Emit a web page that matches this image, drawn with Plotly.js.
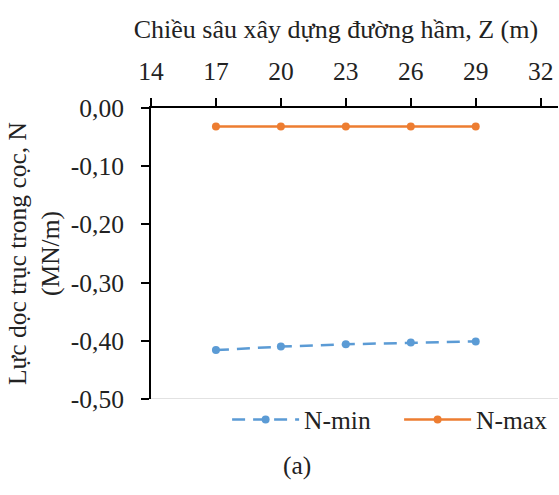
<!DOCTYPE html>
<html>
<head>
<meta charset="utf-8">
<script src="https://cdn.plot.ly/plotly-3.0.1.min.js"></script>
<style>html,body{margin:0;padding:0;background:#fff}</style>
</head>
<body>
<div id="chart" style="width:559px;height:495px"></div>
<script>
const depthZ = [17, 20, 23, 26, 29];
const nMin = [-0.416, -0.410, -0.406, -0.403, -0.401];
const nMax = [-0.032, -0.032, -0.032, -0.032, -0.032];
const xTicks = [14, 17, 20, 23, 26, 29, 32];
const yTicks = [0, -0.1, -0.2, -0.3, -0.4, -0.5];
const yTickText = ['0,00', '-0,10', '-0,20', '-0,30', '-0,40', '-0,50'];

const font = "'Liberation Serif', 'Times New Roman', serif";
const fs = 25.5;
const traces = [
  {x: depthZ, y: nMin, name: 'N-min', mode: 'lines+markers',
   line: {color: '#5B9BD5', width: 2.5, dash: '13px,8px'},
   marker: {color: '#5B9BD5', size: 8}},
  {x: depthZ, y: nMax, name: 'N-max', mode: 'lines+markers',
   line: {color: '#ED7D31', width: 2.5},
   marker: {color: '#ED7D31', size: 8}}
];
const layout = {
  width: 559, height: 495,
  margin: {l: 151, r: 1, t: 108, b: 96, autoexpand: false},
  paper_bgcolor: '#fff', plot_bgcolor: '#fff',
  font: {family: font, size: fs, color: '#222'},
  title: {text: 'Chiều sâu xây dựng đường hầm, Z (m)', xref: 'container', yref: 'container',
          x: 0.601, xanchor: 'center', y: 0.941, yanchor: 'middle',
          font: {family: font, size: 26, color: '#222'}},
  showlegend: true,
  legend: {orientation: 'h', x: 0.187, xanchor: 'left', y: -0.072, yanchor: 'middle',
           bgcolor: 'rgba(0,0,0,0)',
           font: {family: font, size: fs, color: '#222'}, itemwidth: 67,
           entrywidth: 90, entrywidthmode: 'pixels'},
  xaxis: {side: 'top', range: [14, 32.8], tickvals: xTicks, ticktext: xTicks.map(String),
          showgrid: false, zeroline: false, showline: true, linecolor: '#000', linewidth: 2,
          ticks: 'outside', ticklen: 8, tickwidth: 2, tickcolor: '#000', ticklabelstandoff: 8,
          tickfont: {family: font, size: fs, color: '#222'}},
  yaxis: {range: [-0.5, 0], tickvals: yTicks, ticktext: yTickText,
          showgrid: false, zeroline: false, showline: true, linecolor: '#000', linewidth: 2,
          ticks: 'outside', ticklen: 8, tickwidth: 2, tickcolor: '#000', ticklabelstandoff: 12,
          tickfont: {family: font, size: fs, color: '#222'},
          title: {text: 'Lực dọc trục trong cọc, N<br>(MN/m)', standoff: 4,
                  font: {family: font, size: fs, color: '#222'}}},
  shapes: [{type: 'line', xref: 'paper', yref: 'y', x0: 0, x1: 1, y0: -0.5, y1: -0.5,
            line: {color: '#d9d9d9', width: 1.5}}],
  annotations: [{text: '(a)', xref: 'paper', yref: 'paper', x: 0.359, y: -0.227,
                 xanchor: 'center', yanchor: 'middle', showarrow: false,
                 font: {family: font, size: fs, color: '#222'}}]
};
Plotly.newPlot('chart', traces, layout, {displayModeBar: false});
</script>
</body>
</html>
